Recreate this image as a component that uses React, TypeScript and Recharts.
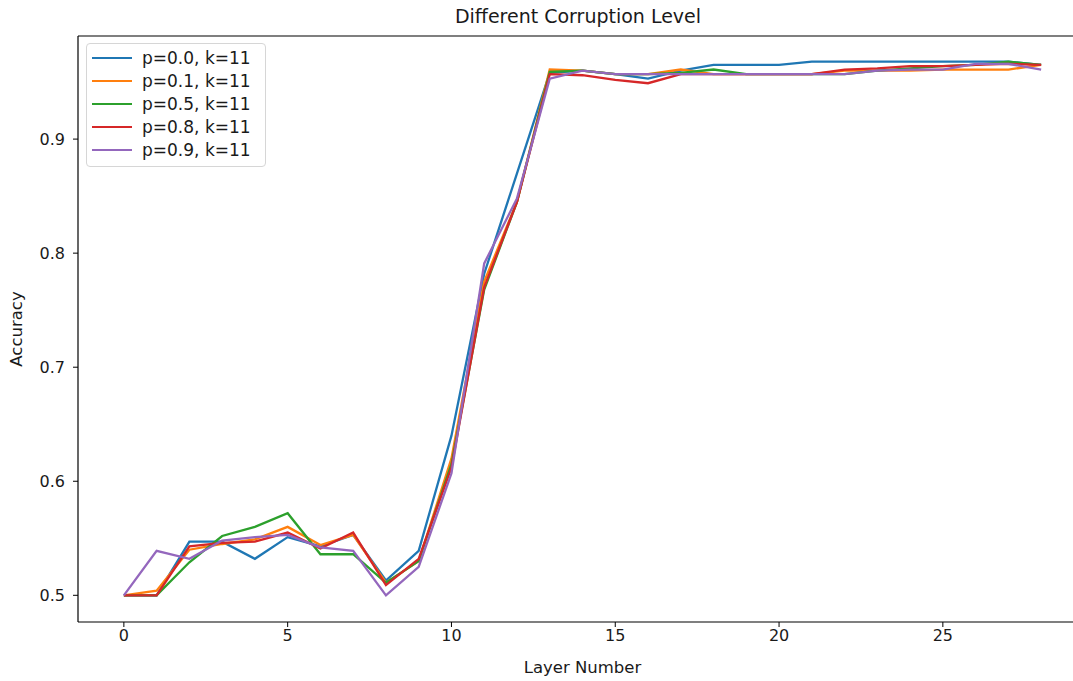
import { LineChart, Line, XAxis, YAxis, Legend } from 'recharts'

const layers = [0, 1, 2, 3, 4, 5, 6, 7, 8, 9, 10, 11, 12, 13, 14, 15, 16, 17, 18, 19, 20, 21, 22, 23, 24, 25, 26, 27, 28]

const p00 = [0.5, 0.5, 0.547, 0.547, 0.532, 0.551, 0.543, 0.553, 0.513, 0.539, 0.64, 0.782, 0.87, 0.958, 0.96, 0.957, 0.953, 0.96, 0.965, 0.965, 0.965, 0.968, 0.968, 0.968, 0.968, 0.968, 0.968, 0.968, 0.965]
const p01 = [0.5, 0.504, 0.54, 0.545, 0.549, 0.56, 0.544, 0.553, 0.511, 0.53, 0.62, 0.775, 0.845, 0.961, 0.96, 0.957, 0.957, 0.961, 0.957, 0.957, 0.957, 0.957, 0.96, 0.96, 0.96, 0.961, 0.961, 0.961, 0.965]
const p05 = [0.5, 0.5, 0.529, 0.552, 0.56, 0.572, 0.536, 0.536, 0.511, 0.53, 0.615, 0.768, 0.845, 0.959, 0.96, 0.957, 0.957, 0.958, 0.961, 0.957, 0.957, 0.957, 0.957, 0.96, 0.962, 0.964, 0.965, 0.968, 0.965]
const p08 = [0.5, 0.5, 0.543, 0.546, 0.547, 0.555, 0.541, 0.555, 0.509, 0.532, 0.612, 0.77, 0.845, 0.957, 0.956, 0.952, 0.949, 0.957, 0.957, 0.957, 0.957, 0.957, 0.961, 0.962, 0.964, 0.964, 0.965, 0.966, 0.965]
const p09 = [0.5, 0.539, 0.532, 0.548, 0.551, 0.553, 0.542, 0.539, 0.5, 0.525, 0.607, 0.791, 0.848, 0.953, 0.96, 0.957, 0.957, 0.957, 0.957, 0.957, 0.957, 0.957, 0.957, 0.96, 0.961, 0.961, 0.966, 0.966, 0.961]

const xTicks = [0, 5, 10, 15, 20, 25]
const yTicks = [0.5, 0.6, 0.7, 0.8, 0.9]

const SERIES = [
  { key: 'p00', name: 'p=0.0, k=11', color: '#1f77b4' },
  { key: 'p01', name: 'p=0.1, k=11', color: '#ff7f0e' },
  { key: 'p05', name: 'p=0.5, k=11', color: '#2ca02c' },
  { key: 'p08', name: 'p=0.8, k=11', color: '#d62728' },
  { key: 'p09', name: 'p=0.9, k=11', color: '#9467bd' },
]

const FONT = '"DejaVu Sans", sans-serif'
const TEXT = '#1a1a1a'

const data = layers.map((layer, i) => ({
  layer,
  p00: p00[i],
  p01: p01[i],
  p05: p05[i],
  p08: p08[i],
  p09: p09[i],
}))

function LegendBox() {
  return (
    <div
      style={{
        width: 180,
        height: 124,
        border: '1px solid #d6d6d6',
        borderRadius: 4,
        background: 'rgba(255,255,255,0.8)',
        fontFamily: FONT,
        fontSize: 17,
        color: TEXT,
        boxSizing: 'border-box',
        position: 'relative',
      }}
    >
      {SERIES.map((s, i) => (
        <div
          key={s.key}
          style={{ position: 'absolute', left: 0, top: 3 + i * 23, height: 22, display: 'flex', alignItems: 'center' }}
        >
          <div style={{ width: 40, height: 2.4, background: s.color, marginLeft: 5, marginRight: 10 }} />
          <span style={{ whiteSpace: 'nowrap' }}>{s.name}</span>
        </div>
      ))}
    </div>
  )
}

export default function App() {
  return (
    <div style={{ position: 'absolute', left: 0, top: 0, width: 1073, height: 681, overflow: 'hidden', background: '#fff' }}>
      <div
        style={{
          position: 'absolute',
          top: 5,
          left: 78,
          width: 1000,
          textAlign: 'center',
          fontFamily: FONT,
          fontSize: 19,
          color: TEXT,
        }}
      >
        Different Corruption Level
      </div>
      <LineChart width={1097} height={681} data={data} margin={{ top: 0, right: 10, bottom: 0, left: 0 }}>
        <XAxis
          xAxisId="top"
          orientation="top"
          dataKey="layer"
          type="number"
          domain={[-1.4, 29.4]}
          height={36}
          tick={false}
          tickLine={false}
          axisLine={{ stroke: '#000', strokeWidth: 1.2 }}
        />
        <XAxis
          dataKey="layer"
          type="number"
          domain={[-1.4, 29.4]}
          ticks={xTicks}
          height={59}
          tickSize={5}
          tickMargin={3}
          tickLine={{ stroke: '#000' }}
          axisLine={{ stroke: '#000', strokeWidth: 1.2 }}
          tick={{ fill: TEXT, fontSize: 16, fontFamily: FONT }}
          label={{
            value: 'Layer Number',
            position: 'insideBottom',
            offset: 8,
            style: { fill: TEXT, fontSize: 16.5, fontFamily: FONT },
          }}
        />
        <YAxis
          type="number"
          domain={[0.4766, 0.9904]}
          ticks={yTicks}
          width={78}
          tickSize={5}
          tickMargin={8}
          tickFormatter={(v: number) => v.toFixed(1)}
          tickLine={{ stroke: '#000' }}
          axisLine={{ stroke: '#000', strokeWidth: 1.2 }}
          tick={{ fill: TEXT, fontSize: 16, fontFamily: FONT }}
          label={{
            value: 'Accuracy',
            angle: -90,
            position: 'insideLeft',
            offset: 16,
            style: { fill: TEXT, fontSize: 16.5, fontFamily: FONT, textAnchor: 'middle' },
          }}
        />
        <Legend
          layout="horizontal"
          verticalAlign="middle"
          align="center"
          content={() => <LegendBox />}
          wrapperStyle={{ position: 'absolute', left: 86, top: 43, width: 'auto' }}
        />
        {SERIES.map((s) => (
          <Line
            key={s.key}
            type="linear"
            dataKey={s.key}
            name={s.name}
            stroke={s.color}
            strokeWidth={2.3}
            dot={false}
            activeDot={false}
            isAnimationActive={false}
          />
        ))}
      </LineChart>
    </div>
  )
}
